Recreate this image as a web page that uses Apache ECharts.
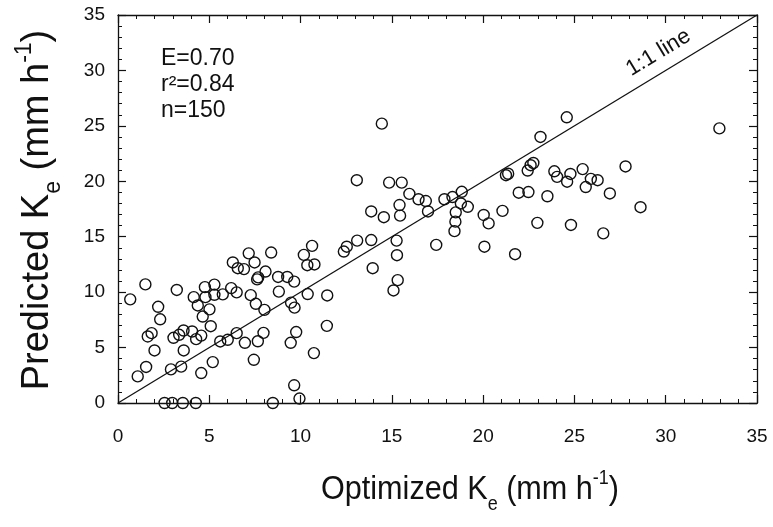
<!DOCTYPE html>
<html>
<head>
<meta charset="utf-8">
<script src="https://cdn.jsdelivr.net/npm/echarts@6/dist/echarts.min.js"></script>
<style>html,body{margin:0;padding:0;background:#fff}#c{width:773px;height:527px}</style>
</head>
<body>
<div id="c"></div>
<script>
// Optimized Ke (x) vs Predicted Ke (y), mm h-1
const optimizedKe = [
  2.55,2.97,3.55,4.26,8.48,9.94,9.65,
  0.67,1.08,1.5,1.54,1.63,1.84,2.0,2.2,2.31,2.9,3.04,3.22,3.35,3.46,3.6,3.59,4.06,4.15,4.28,4.37,4.56,4.56,4.64,4.76,4.79,5.01,5.08,5.19,5.28,5.28,
  5.6,5.74,6.01,6.2,6.29,6.5,6.5,6.56,6.9,6.95,7.16,7.27,7.44,7.48,7.55,7.66,7.68,7.62,7.97,8.02,8.08,8.39,8.77,8.81,9.27,9.46,9.48,9.65,9.67,9.76,
  10.18,10.37,10.39,10.63,10.76,10.73,11.46,11.44,12.37,12.53,13.1,13.08,13.87,13.87,13.95,14.45,14.56,14.85,15.26,15.28,15.32,15.09,15.42,15.45,15.54,
  15.96,16.46,16.86,16.98,17.43,17.88,18.32,18.43,18.48,18.5,18.78,18.83,19.16,20.03,20.07,20.3,21.06,21.37,21.25,21.75,21.95,22.48,22.44,22.6,22.75,
  22.97,23.14,23.52,23.9,24.05,24.6,24.58,24.78,24.81,25.45,25.62,25.9,26.27,26.58,26.94,27.8,28.62,32.94
];
const predictedKe = [
  0,0,0,0,0,0.4,1.6,
  9.35,2.4,10.7,3.25,6.0,6.3,4.74,8.68,7.55,3.03,5.88,10.2,6.15,3.28,4.74,6.54,6.45,9.55,5.76,8.8,6.08,2.7,7.8,10.45,9.55,8.45,6.93,3.69,10.68,9.76,
  5.55,9.8,5.7,10.36,12.68,9.98,6.3,12.16,12.08,5.43,13.5,9.73,3.9,12.68,8.95,5.57,11.33,11.15,6.33,8.4,11.86,13.57,11.37,10.05,11.37,5.43,9.05,10.95,8.6,6.4,
  13.36,12.43,9.83,14.17,12.5,4.5,9.7,6.96,13.66,14.1,14.65,20.1,14.7,17.28,12.16,25.2,16.76,19.88,14.65,13.33,11.08,10.15,17.86,16.9,19.88,
  18.86,18.38,18.22,17.28,14.26,18.38,18.58,15.5,16.36,17.2,18.0,19.05,17.7,16.96,14.1,16.2,17.33,20.68,20.55,13.42,18.97,19.03,20.97,21.45,21.65,
  16.25,24.0,18.65,20.9,20.4,19.96,25.77,20.66,16.06,21.1,19.48,20.22,20.1,15.3,18.9,21.34,17.66,24.77
];
const lineX = [0, 35];
const lineY = [0, 35];
const xTicks = ['0','5','10','15','20','25','30','35'];
const yTicks = ['0','5','10','15','20','25','30','35'];
const stats = ['E=0.70', 'r²=0.84', 'n=150'];
const lineLabel = '1:1 line';
const lineLabelPos = [29.6, 31.6];
const xTitle = 'Optimized K{sub|e} (mm h{sup|-1})';
const yTitle = 'Predicted K{sub|e} (mm h{sup|-1})';

const points = optimizedKe.map((x, i) => [x, predictedKe[i]]);
const oneToOne = lineX.map((x, i) => [x, lineY[i]]);

const FONT = 'Liberation Sans, Arial, Helvetica, sans-serif';
const tickFont = { fontFamily: FONT, fontSize: 19, color: '#111' };

function axisCommon(showLabel) {
  return {
    type: 'value', min: 0, max: 35, interval: 5,
    axisLine: { show: true, onZero: false, lineStyle: { color: '#111', width: 1.3 } },
    axisTick: { show: true, inside: true, length: 8, lineStyle: { color: '#111', width: 1.2 } },
    minorTick: { show: true, splitNumber: 5, length: 4, lineStyle: { color: '#111', width: 1 } },
    splitLine: { show: false },
    axisLabel: Object.assign({ show: showLabel }, tickFont)
  };
}

function titleRich(size) {
  return {
    sub: { fontSize: Math.round(size * 0.6), fontFamily: FONT, fill: '#111', verticalAlign: 'bottom', padding: [0, 0, -Math.round(size * 0.2), 0] },
    sup: { fontSize: Math.round(size * 0.6), fontFamily: FONT, fill: '#111', verticalAlign: 'top', padding: [-Math.round(size * 0.15), 0, 0, 0] }
  };
}

const chart = echarts.init(document.getElementById('c'), null, { renderer: 'canvas' });
chart.setOption({
  animation: false,
  backgroundColor: '#fff',
  grid: { left: 118, right: 16, top: 15, bottom: 124 },
  xAxis: [
    Object.assign(axisCommon(true), {
      position: 'bottom',
      axisLabel: Object.assign({ show: true, margin: 24, formatter: v => xTicks[v / 5] }, tickFont)
    }),
    Object.assign(axisCommon(false), { position: 'top' })
  ],
  yAxis: [
    Object.assign(axisCommon(true), {
      position: 'left',
      axisLabel: Object.assign({ show: true, margin: 13, formatter: v => yTicks[v / 5] }, tickFont)
    }),
    Object.assign(axisCommon(false), { position: 'right' })
  ],
  series: [
    {
      type: 'line', data: oneToOne, xAxisIndex: 0, yAxisIndex: 0,
      symbol: 'none', lineStyle: { color: '#111', width: 1.3 }, silent: true, z: 2
    },
    {
      type: 'scatter', data: points, xAxisIndex: 0, yAxisIndex: 0,
      symbol: 'circle', symbolSize: 11,
      itemStyle: { color: 'rgba(255,255,255,0)', borderColor: '#111', borderWidth: 1.4, opacity: 1 },
      z: 3
    },
    {
      type: 'scatter', data: [lineLabelPos], symbolSize: 0, silent: true,
      itemStyle: { opacity: 1, color: '#111' },
      label: { show: true, formatter: lineLabel, position: 'inside', rotate: 31.3,
        fontFamily: FONT, fontSize: 22, color: '#111', opacity: 1, textBorderWidth: 0 }
    }
  ],
  graphic: stats.map((t, i) => ({
    type: 'text', left: 161, top: 47 + i * 26,
    style: { text: t, fontFamily: FONT, fontSize: 23, fill: '#111' }
  })).concat([
    {
      type: 'text', x: 470, y: 490, scaleX: 0.9,
      style: { text: xTitle, fontFamily: FONT, fontSize: 34, fill: '#111',
        align: 'center', verticalAlign: 'middle', rich: titleRich(34) }
    },
    {
      type: 'text', x: 38, y: 210, rotation: Math.PI / 2,
      style: { text: yTitle, fontFamily: FONT, fontSize: 38, fill: '#111',
        align: 'center', verticalAlign: 'middle', rich: titleRich(38) }
    }
  ])
});
</script>
</body>
</html>
